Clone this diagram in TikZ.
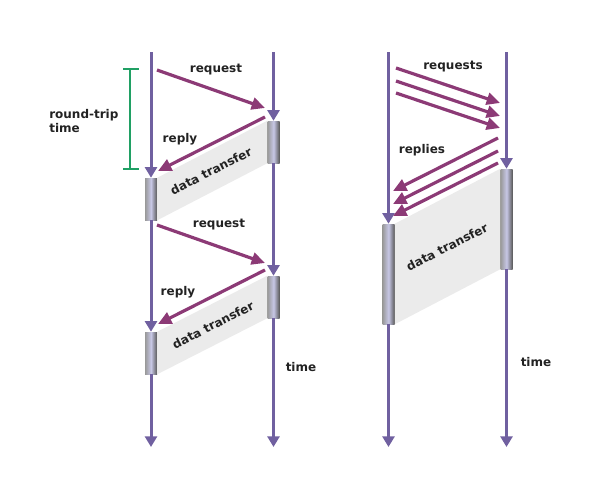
\documentclass[tikz,border=0pt]{standalone}
\usepackage{fontspec}
\setmainfont{DejaVu Sans}
\usetikzlibrary{arrows.meta}
\definecolor{timeline}{RGB}{112,96,160}
\definecolor{msgline}{RGB}{140,58,118}
\definecolor{rttgreen}{RGB}{32,160,100}
\definecolor{xfergray}{RGB}{235,235,235}
\definecolor{labeltext}{RGB}{34,34,34}
\tikzset{
  timeaxis/.style={draw=timeline, line width=2.25pt, -{Triangle[width=9pt,length=8pt]}},
  msg/.style={draw=msgline, line width=2.4pt, -{Triangle[width=9pt,length=10pt]}},
  busy/.style={minimum width=9pt, inner sep=0pt, left color=black!40, right color=black!65, middle color=white!85!blue!80!gray},
  lbl/.style={text=labeltext, font=\bfseries\fontsize{9}{11}\selectfont, inner sep=0pt},
}
\begin{document}
\begin{tikzpicture}[x=0.75pt,y=-0.75pt]
	\useasboundingbox (0,0) rectangle (600,500);
	% stop-and-wait
	\coordinate (c1top) at (151,52);
	\coordinate (s1top) at (273.5,52);
	\coordinate (c1end) at (151,447);
	\coordinate (s1end) at (273.5,447);
	\node[busy, minimum height=31.5pt] (cA) at (151,199) {};
	\node[busy, minimum height=31.5pt] (cB) at (151,353) {};
	\node[busy, minimum height=31.5pt] (sA) at (273.5,142) {};
	\node[busy, minimum height=31.5pt] (sB) at (273.5,297) {};
	\fill[xfergray] (cA.north east) -- (sA.north west) -- (sA.south west) -- (cA.south east) -- cycle;
	\fill[xfergray] (cB.north east) -- (sB.north west) -- (sB.south west) -- (cB.south east) -- cycle;
	\draw[timeaxis] (c1top) -- (cA.north);
	\draw[timeaxis] (cA.south) -- (cB.north);
	\draw[timeaxis] (cB.south) -- (c1end);
	\draw[timeaxis] (s1top) -- (sA.north);
	\draw[timeaxis] (sA.south) -- (sB.north);
	\draw[timeaxis] (sB.south) -- (s1end);

	\coordinate (rq1s) at (157,70);  \coordinate (rq1e) at (265,108);
	\coordinate (rp1s) at (265,117); \coordinate (rp1e) at (158,171);
	\coordinate (rq2s) at (157,225); \coordinate (rq2e) at (265,263);
	\coordinate (rp2s) at (265,270); \coordinate (rp2e) at (158,324);
	\draw[msg] (rq1s) -- (rq1e);
	\draw[msg] (rp1s) -- (rp1e);
	\draw[msg] (rq2s) -- (rq2e);
	\draw[msg] (rp2s) -- (rp2e);

	\node[lbl] (req1) at (216,70) {request};
	\node[lbl] (rep1) at (180,139) {reply};
	\node[lbl] (req2) at (219,225) {request};
	\node[lbl] (rep2) at (178,292) {reply};
	\node[lbl, rotate=27] (dt1) at (211,171) {data transfer};
	\node[lbl, rotate=27] (dt2) at (213,325) {data transfer};
	\node[lbl] (time1) at (301,367) {time};

	% round-trip bracket
	\coordinate (rtta) at (130,69);
	\coordinate (rttb) at (130,169);
	\draw[rttgreen, line width=0.9pt] (rtta) -- (rttb);
	\draw[rttgreen, line width=0.9pt] (rtta) ++(-7,0) -- ++(16,0);
	\draw[rttgreen, line width=0.9pt] (rttb) ++(-7,0) -- ++(16,0);
	\node[lbl, anchor=west, align=left] (rtt) at (49,121) {round-trip\\time};

	% pipelined
	\coordinate (c2top) at (388.5,52);
	\coordinate (s2top) at (506.5,52);
	\coordinate (c2end) at (388.5,447);
	\coordinate (s2end) at (506.5,447);
	\node[busy, minimum height=75pt] (cC) at (388.5,274) {};
	\node[busy, minimum height=75pt] (sC) at (506.5,219) {};
	\fill[xfergray] (cC.north east) -- (sC.north west) -- (sC.south west) -- (cC.south east) -- cycle;
	\draw[timeaxis] (c2top) -- (cC.north);
	\draw[timeaxis] (cC.south) -- (c2end);
	\draw[timeaxis] (s2top) -- (sC.north);
	\draw[timeaxis] (sC.south) -- (s2end);

	\foreach \i/\dy in {0/0,1/13,2/25} {
		\coordinate (rqs\i) at (396,68+\dy);
		\coordinate (rqe\i) at (500,103+\dy);
		\coordinate (rps\i) at (498,138+\dy);
		\coordinate (rpe\i) at (393,191+\dy);
		\draw[msg] (rqs\i) -- (rqe\i);
		\draw[msg] (rps\i) -- (rpe\i);
	}

	\node[lbl] (reqs) at (453,67) {requests};
	\node[lbl] (reps) at (422,150) {replies};
	\node[lbl, rotate=27] (dt3) at (447,247) {data transfer};
	\node[lbl] (time2) at (536,362) {time};
\end{tikzpicture}
\end{document}
